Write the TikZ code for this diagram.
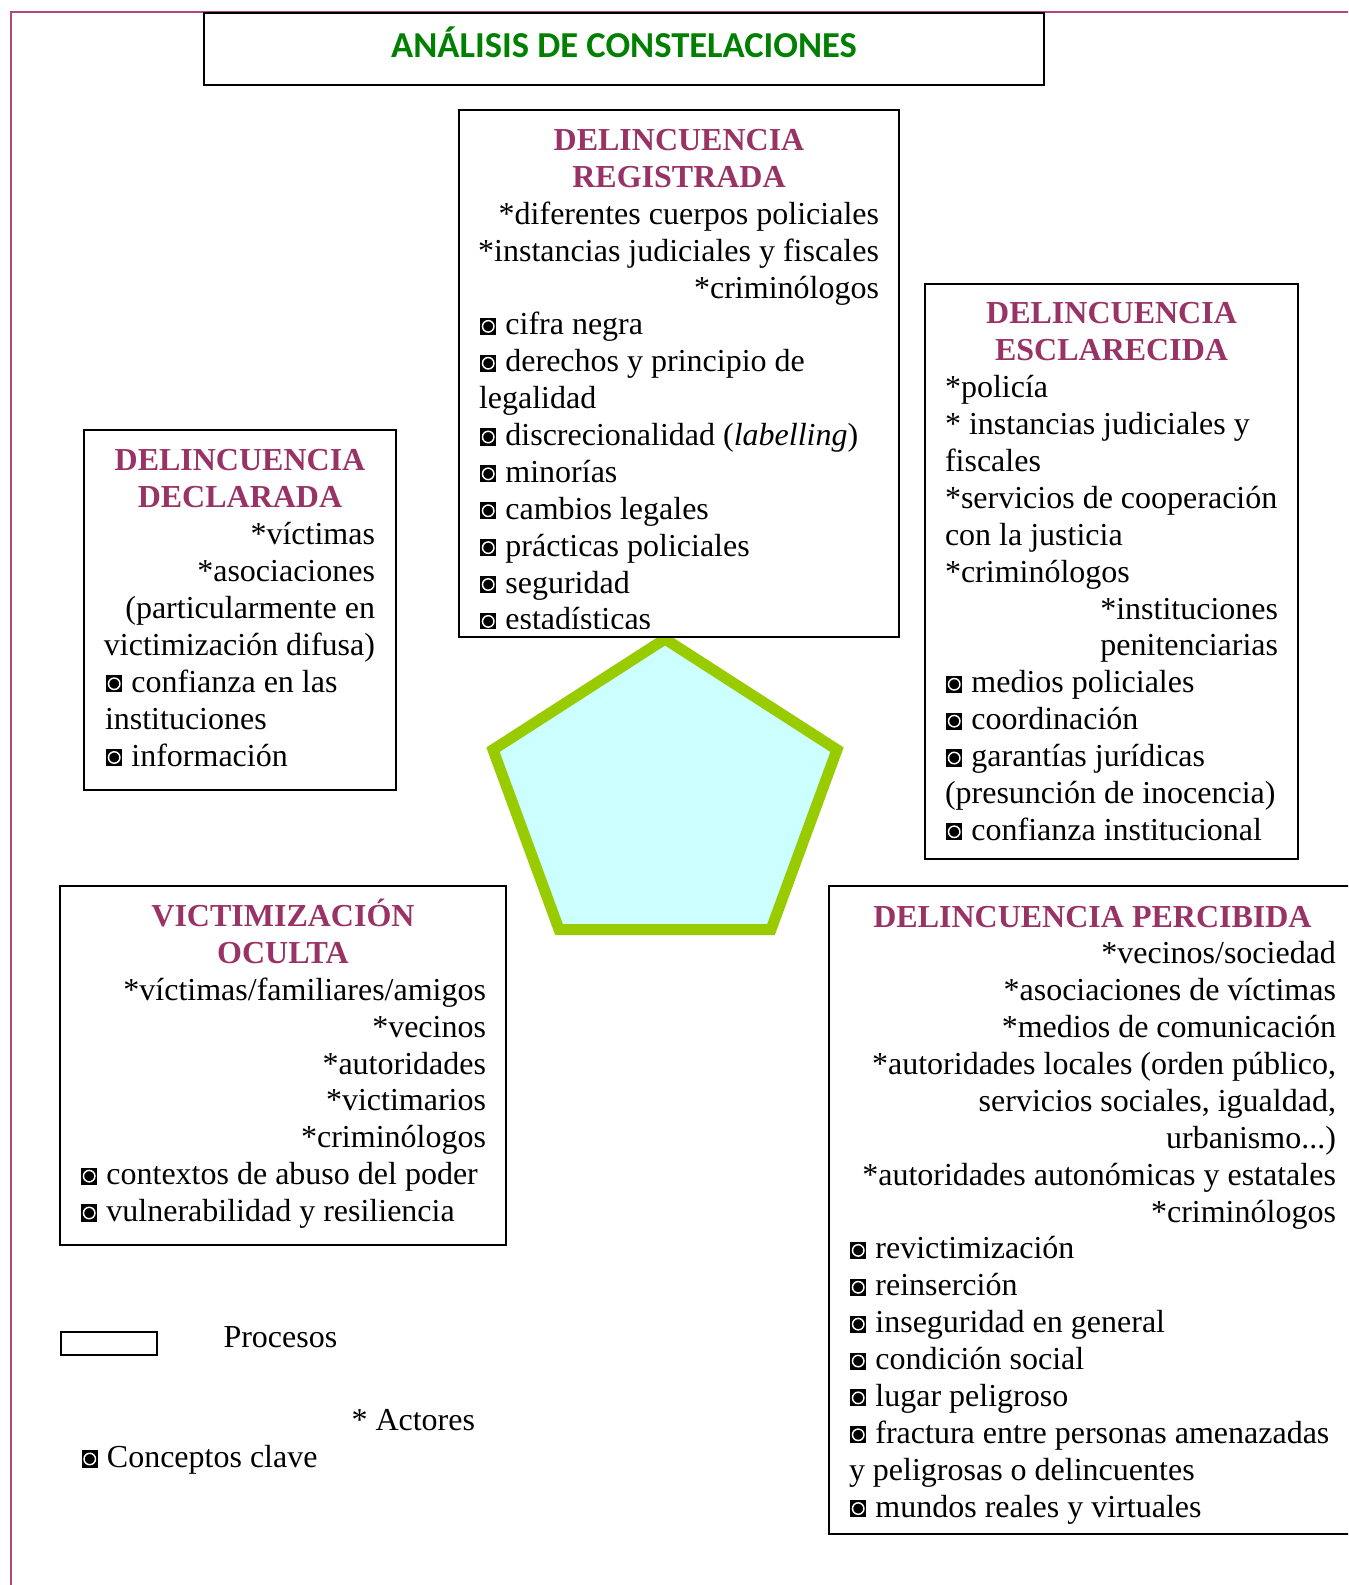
\documentclass[tikz,border=0pt]{standalone}
\usepackage{fontspec}
\setmainfont{Liberation Serif}
\newfontfamily\titlefont{Carlito}
\definecolor{frame}{RGB}{178,72,130}
\definecolor{headc}{RGB}{153,51,102}
\definecolor{titlec}{RGB}{0,128,0}
\definecolor{pentline}{RGB}{153,204,0}
\definecolor{pentfill}{RGB}{204,255,255}
\newsavebox\bulbox
\newcommand\lnR[1]{\hbox to \hsize{\hss #1}}
\newcommand\lnL[1]{\hbox to \hsize{#1\hss}}
\newcommand\lnC[1]{\hbox to \hsize{\hss #1\hss}}
\newcommand\hd[1]{\lnC{\bfseries\color{headc}#1}}
\newcommand\bul{\usebox\bulbox\ }
\newcommand\boxlines[2]{\vtop{\hsize=#1\fontsize{12}{13.83}\selectfont #2}}
\begin{document}
\sbox\bulbox{\begin{pgfpicture}%
\pgfpathrectangle{\pgfpoint{0pt}{0pt}}{\pgfpoint{6.9pt}{6.4pt}}\pgfusepath{use as bounding box}%
\pgfsetfillcolor{black}\pgfpathrectangle{\pgfpoint{0.4pt}{0pt}}{\pgfpoint{6.1pt}{6.4pt}}\pgfusepath{fill}%
\pgfsetstrokecolor{white}\pgfsetlinewidth{0.55pt}\pgfpathcircle{\pgfpoint{3.45pt}{3.2pt}}{2.15pt}\pgfusepath{stroke}%
\end{pgfpicture}}%
\begin{tikzpicture}[x=0.375pt,y=-0.375pt,
  boxline/.style={draw=black,line width=0.75pt,fill=white},
  txt/.style={anchor=base west,inner sep=0pt,outer sep=0pt},
  lab/.style={anchor=base west,inner sep=0pt,font=\fontsize{12}{13.83}\selectfont}]
\useasboundingbox (0,0) rectangle (1348,1585);
\clip (0,0) rectangle (1348,1585);
% outer frame
\draw[frame,line width=0.75pt] (11,1590) -- (11,12.5) -- (1352,12.5);
% pentagon
\draw[pentline,fill=pentfill,line width=4.125pt,line join=miter]
  (665,639) -- (837,749.7) -- (771,929.5) -- (559,929.5) -- (493,749.7) -- cycle;
% title
\node[boxline,minimum width=840*0.375pt,minimum height=72*0.375pt,inner sep=0pt] (title) at (624,49) {};
\node[anchor=base,inner sep=0pt,font=\titlefont\bfseries\fontsize{13.7}{16}\selectfont,text=titlec] (titletext) at (624,58) {ANÁLISIS DE CONSTELACIONES};
% boxes
\draw[boxline] (459,110) rectangle (899,637);
\draw[boxline] (925,284) rectangle (1298,859);
\draw[boxline] (84,430) rectangle (396,790);
\draw[boxline] (60,886) rectangle (506,1245);
\draw[boxline] (829,886) rectangle (1358,1534);
% registrada
\begin{scope}
\clip (459,110) rectangle (899,628);
\node[txt] (reg) at (479,150.5) {\boxlines{150pt}{%
\hd{DELINCUENCIA}\hd{REGISTRADA}%
\lnR{*diferentes cuerpos policiales}%
\lnR{*instancias judiciales y fiscales}%
\lnR{*criminólogos}%
\lnL{\bul cifra negra}%
\lnL{\bul derechos y principio de}%
\lnL{legalidad}%
\lnL{\bul discrecionalidad (\textit{labelling})}%
\lnL{\bul minorías}%
\lnL{\bul cambios legales}%
\lnL{\bul prácticas policiales}%
\lnL{\bul seguridad}%
\lnL{\bul estadísticas}}};
\end{scope}
% esclarecida
\node[txt] (escl) at (945,324) {\boxlines{124.9pt}{%
\hd{DELINCUENCIA}\hd{ESCLARECIDA}%
\lnL{*policía}%
\lnL{* instancias judiciales y}%
\lnL{fiscales}%
\lnL{*servicios de cooperación}%
\lnL{con la justicia}%
\lnL{*criminólogos}%
\lnR{*instituciones}%
\lnR{penitenciarias}%
\lnL{\bul medios policiales}%
\lnL{\bul coordinación}%
\lnL{\bul garantías jurídicas}%
\lnL{(presunción de inocencia)}%
\lnL{\bul confianza institucional}}};
% declarada
\node[txt] (decl) at (105,471) {\boxlines{101.25pt}{%
\hd{DELINCUENCIA}\hd{DECLARADA}%
\lnR{*víctimas}%
\lnR{*asociaciones}%
\lnR{(particularmente en}%
\lnR{victimización difusa)}%
\lnL{\bul confianza en las}%
\lnL{instituciones}%
\lnL{\bul información}}};
% victimizacion oculta
\node[txt] (vict) at (80,926.5) {\boxlines{152.25pt}{%
\hd{VICTIMIZACIÓN}\hd{OCULTA}%
\lnR{*víctimas/familiares/amigos}%
\lnR{*vecinos}%
\lnR{*autoridades}%
\lnR{*victimarios}%
\lnR{*criminólogos}%
\lnL{\bul contextos de abuso del poder}%
\lnL{\bul vulnerabilidad y resiliencia}}};
% percibida
\node[txt] (perc) at (849,927) {\boxlines{182.6pt}{%
\hd{DELINCUENCIA PERCIBIDA}%
\lnR{*vecinos/sociedad}%
\lnR{*asociaciones de víctimas}%
\lnR{*medios de comunicación}%
\lnR{*autoridades locales (orden público,}%
\lnR{servicios sociales, igualdad,}%
\lnR{urbanismo...)}%
\lnR{*autoridades autonómicas y estatales}%
\lnR{*criminólogos}%
\lnL{\bul revictimización}%
\lnL{\bul reinserción}%
\lnL{\bul inseguridad en general}%
\lnL{\bul condición social}%
\lnL{\bul lugar peligroso}%
\lnL{\bul fractura entre personas amenazadas}%
\lnL{y peligrosas o delincuentes}%
\lnL{\bul mundos reales y virtuales}}};
% legend
\node[draw=black,line width=0.75pt,minimum width=96*0.375pt,minimum height=23*0.375pt,inner sep=0pt] (legbox) at (109,1343.5) {};
\node[lab] (legproc) at (223,1347.5) {Procesos};
\node[lab] (legact) at (351,1430) {* Actores};
\node[lab] (legconc) at (80,1467.5) {\bul Conceptos clave};
\end{tikzpicture}
\end{document}
